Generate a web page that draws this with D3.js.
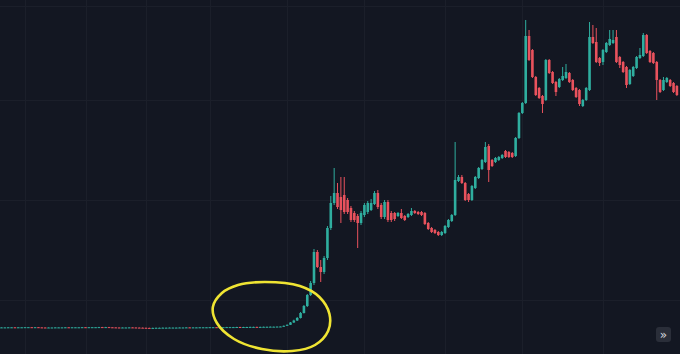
<!DOCTYPE html>
<html>
<head>
<meta charset="utf-8">
<script src="https://cdn.jsdelivr.net/npm/d3@7"></script>
<style>
  html, body { margin: 0; padding: 0; background: #131722; overflow: hidden; }
  #chart { width: 680px; height: 354px; }
</style>
</head>
<body>
<div id="chart"></div>
<script>
// candles, one per bar, prices in chart units
var opens = [
  12.5,12.6,12.6,12.7,12.7,12.6,12.7,12.7,12.8,12.8,12.7,12.8,12.6,12.5,12.4,12.5,12.5,12.6,12.6,12.6,
  12.7,12.6,12.7,12.7,12.7,12.8,12.7,12.8,12.8,12.8,12.9,12.8,12.9,12.7,12.6,12.5,12.4,12.5,12.5,12.6,
  12.5,12.4,12.3,12.2,12.1,12.0,12.1,12.2,12.2,12.3,12.3,12.4,12.4,12.4,12.5,12.5,12.6,12.5,12.6,12.6,
  12.7,12.7,12.7,12.8,12.8,12.7,12.8,12.8,12.9,12.9,12.9,13.0,12.9,13.0,13.0,13.1,13.1,13.0,13.1,13.2,
  13.2,13.3,13.3,13.4,
  13.5,14.2,15.2,17.5,19.5,22,27,34,45,57,88,73,68,82,112,137,147,143,145,140,
  132,127,124,117,125,128,130,136,147,135,123,138,127,127,124,127,124,123,125,129,
  128,128,127,117,112,110,108,105,107,113,119,125,159,163,157,146,140,152,162,171,
  178,194,180,178,180,182,189,188,187,184,202,227,237,304,290,263,252,244,240,280,
  268,258,253,260,262,267,260,252,250,234,240,250,303,298,282,278,288,295,297,303,
  283,278,273,256,264,272,282,284,305,289,287,278,260,250,258,260,257,254
];
var closes = [
  12.6,12.6,12.7,12.7,12.6,12.7,12.7,12.8,12.8,12.7,12.8,12.6,12.5,12.4,12.5,12.5,12.6,12.6,12.6,12.7,
  12.6,12.7,12.7,12.7,12.8,12.7,12.8,12.8,12.8,12.9,12.8,12.9,12.7,12.6,12.5,12.4,12.5,12.5,12.6,12.5,
  12.4,12.3,12.2,12.1,12.0,12.1,12.2,12.2,12.3,12.3,12.4,12.4,12.4,12.5,12.5,12.6,12.5,12.6,12.6,12.7,
  12.7,12.7,12.8,12.8,12.7,12.8,12.8,12.9,12.9,12.9,13.0,12.9,13.0,13.0,13.1,13.1,13.0,13.1,13.2,13.2,
  13.3,13.3,13.4,13.5,
  14.2,15.2,17.5,19.5,22,27,34,45,57,88,73,68,82,112,137,147,133,130,128,128,
  120,120,117,127,135,137,137,147,133,123,138,120,120,121,127,122,120,126,129,127,
  126,125,116,111,108,107,105,108,114,120,125,160,163,157,140,140,154,163,172,180,
  193,170,174,182,183,185,183,183,183,202,227,237,304,280,263,245,242,236,280,267,
  257,248,261,264,268,258,250,243,236,240,252,303,297,278,277,290,297,301,300,278,
  275,268,255,270,273,283,285,305,287,278,277,260,248,260,262,254,248,245
];
var highs = [
  12.8,12.8,12.9,12.9,12.9,12.9,12.9,13.0,13.0,13.0,13.0,13.0,12.8,12.7,12.7,12.7,12.8,12.8,12.8,12.9,
  12.9,12.9,12.9,12.9,13.0,13.0,13.0,13.0,13.0,13.1,13.1,13.1,13.1,12.9,12.8,12.7,12.7,12.7,12.8,12.8,
  12.7,12.6,12.5,12.4,12.3,12.3,12.4,12.4,12.5,12.5,12.6,12.6,12.6,12.7,12.7,12.8,12.8,12.8,12.8,12.9,
  12.9,12.9,13.0,13.0,13.0,13.0,13.0,13.1,13.1,13.1,13.2,13.2,13.2,13.2,13.3,13.3,13.3,13.3,13.4,13.4,
  13.5,13.5,13.6,13.7,
  14.5,15.5,18,20.3,23,28,35,46,59,91,90,80,84,114,144,172,157,163,163,142,
  134,129,126,129,137,139,141,149,150,137,140,140,129,128,128,131,125,127,132,130,
  129,129,128,118,113,111,109,109,115,121,126,198,165,165,158,147,155,164,173,181,
  198,196,181,183,184,186,190,189,188,203,228,238,320,310,291,264,253,245,281,281,
  269,259,262,273,276,268,261,253,251,241,253,318,315,312,283,291,298,310,310,310,
  284,279,274,271,274,284,292,307,306,290,288,279,261,263,263,261,258,255
];
var lows = [
  12.3,12.4,12.4,12.5,12.4,12.4,12.5,12.5,12.6,12.5,12.5,12.4,12.3,12.2,12.2,12.3,12.3,12.4,12.4,12.4,
  12.4,12.4,12.5,12.5,12.5,12.5,12.5,12.6,12.6,12.6,12.6,12.6,12.5,12.4,12.3,12.2,12.2,12.3,12.3,12.3,
  12.2,12.1,12.0,11.9,11.8,11.8,11.9,12.0,12.0,12.1,12.1,12.2,12.2,12.2,12.3,12.3,12.3,12.3,12.4,12.4,
  12.5,12.5,12.5,12.6,12.5,12.5,12.6,12.6,12.7,12.7,12.7,12.7,12.7,12.8,12.8,12.9,12.8,12.8,12.9,13.0,
  13.0,13.1,13.1,13.2,
  13.3,14.0,15,17,19,21.5,26.5,33,44,55,72,58,66,80,110,135,131,117,126,126,
  118,118,92,115,123,126,129,135,131,121,121,118,118,119,123,121,119,122,124,126,
  125,124,115,110,107,106,104,104,106,112,118,124,158,156,139,138,139,151,161,170,
  177,158,173,177,179,181,182,182,182,183,201,226,236,279,262,244,241,227,239,266,
  256,244,252,259,261,257,249,242,234,233,239,249,296,277,274,275,287,294,296,277,
  272,267,252,255,263,271,281,283,286,277,276,240,247,249,257,253,247,244
];

// faint price grid and time grid
var gridPrices = [40, 140, 240, 334];
var gridBars = [7, 25, 43, 62, 85, 108, 132, 155, 179];

// hand drawn ring round the breakout, in bar / price terms
var ringBars   = [70.4, 78.4, 88.8, 94.6, 97.6, 97.2, 93.3, 86.5, 77.5, 69.2, 64.1, 62.9, 65.6];
var ringPrices = [55, 58, 54, 43, 26, 9, -5, -11, -9, 1, 17, 33, 47];

var width = 680, height = 354;
var n = closes.length;

var svg = d3.select("#chart").append("svg")
  .attr("width", width)
  .attr("height", height)
  .style("display", "block");

svg.append("rect").attr("width", width).attr("height", height).attr("fill", "#131722");

var x = d3.scaleLinear().domain([0, n - 1]).range([1.5, 676.9]);
var y = d3.scaleLinear().domain([0, 340]).range([340, 0]);
var bodyW = 2.6;

// grid
svg.append("g").selectAll("line").data(gridPrices).enter().append("line")
  .attr("x1", 0).attr("x2", width)
  .attr("y1", function (d) { return Math.round(y(d)) + 0.5; })
  .attr("y2", function (d) { return Math.round(y(d)) + 0.5; })
  .attr("stroke", "#1b1f2a").attr("stroke-width", 1);
svg.append("g").selectAll("line").data(gridBars).enter().append("line")
  .attr("y1", 0).attr("y2", height)
  .attr("x1", function (d) { return Math.round(x(d)) + 0.5; })
  .attr("x2", function (d) { return Math.round(x(d)) + 0.5; })
  .attr("stroke", "#1b1f2a").attr("stroke-width", 1);

var bars = d3.range(n);
var up = function (i) { return closes[i] >= opens[i]; };
var color = function (i) { return up(i) ? "#2fae9f" : "#e9525d"; };

var candles = svg.append("g").selectAll("g").data(bars).enter().append("g");
candles.append("line")
  .attr("x1", function (i) { return x(i); })
  .attr("x2", function (i) { return x(i); })
  .attr("y1", function (i) { return y(highs[i]); })
  .attr("y2", function (i) { return y(lows[i]); })
  .attr("stroke", color)
  .attr("stroke-width", 1);
candles.append("rect")
  .attr("x", function (i) { return x(i) - bodyW / 2; })
  .attr("width", bodyW)
  .attr("y", function (i) { return y(Math.max(opens[i], closes[i])); })
  .attr("height", function (i) { return Math.max(1, Math.abs(y(opens[i]) - y(closes[i]))); })
  .attr("fill", color);

// yellow ring
var ring = d3.line()
  .x(function (i) { return x(ringBars[i]); })
  .y(function (i) { return y(ringPrices[i]); })
  .curve(d3.curveCatmullRomClosed);
svg.append("path")
  .attr("d", ring(d3.range(ringBars.length)))
  .attr("fill", "none")
  .attr("stroke", "#efe433")
  .attr("stroke-width", 2.6)
  .attr("stroke-linejoin", "round");

// scroll-to-latest button
var btn = svg.append("g").attr("transform", "translate(656,327)");
btn.append("rect").attr("width", 15).attr("height", 15).attr("rx", 3).attr("fill", "#2a2e39");
btn.append("text")
  .attr("x", 7.5).attr("y", 11.5)
  .attr("text-anchor", "middle")
  .attr("font-family", "DejaVu Sans, sans-serif")
  .attr("font-size", 12)
  .attr("fill", "#d1d4dc")
  .text("»");
</script>
</body>
</html>
